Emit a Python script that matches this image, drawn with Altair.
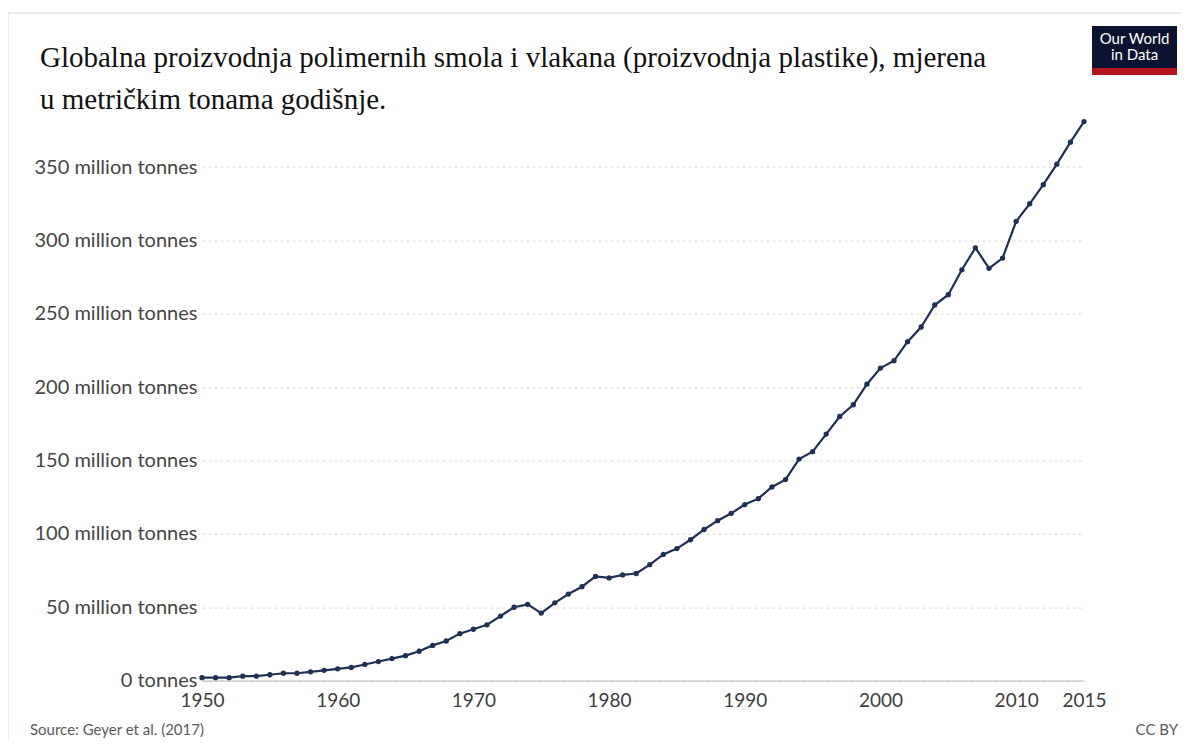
import altair as alt
import pandas as pd

years = list(range(1950, 2016))
production = [2, 2, 2, 3, 3, 4, 5, 5, 6, 7,
              8, 9, 11, 13, 15, 17, 20, 24, 27, 32,
              35, 38, 44, 50, 52, 46, 53, 59, 64, 71,
              70, 72, 73, 79, 86, 90, 96, 103, 109, 114,
              120, 124, 132, 137, 151, 156, 168, 180, 188, 202,
              213, 218, 231, 241, 256, 263, 280, 295, 281, 288,
              313, 325, 338, 352, 367, 381]
x_ticks = [1950, 1960, 1970, 1980, 1990, 2000, 2010, 2015]
y_ticks = [0, 50, 100, 150, 200, 250, 300, 350]

title_lines = ["Globalna proizvodnja polimernih smola i vlakana (proizvodnja plastike), mjerena",
               "u metričkim tonama godišnje."]
source_text = "Source: Geyer et al. (2017)"
license_text = "CC BY"
logo_lines = ["Our World", "in Data"]

df = pd.DataFrame({"year": years, "value": production})
one = pd.DataFrame({"k": [0]})

W, H = 882, 559
TOP = 121.6
LINE = "#1f3152"

x = alt.X("year:Q", scale=alt.Scale(domain=[1950, 2015], nice=False, zero=False),
          axis=alt.Axis(values=x_ticks, format="d", title=None, grid=False, ticks=False,
                        domain=True, domainColor="#b8b8b8", domainWidth=1,
                        labelFont="Lato", labelFontSize=19, labelColor="#3d3d3d",
                        labelPadding=11, labelFlush=False))
y = alt.Y("value:Q", scale=alt.Scale(domain=[0, 381], nice=False),
          axis=alt.Axis(values=y_ticks, title=None, grid=True, gridDash=[3, 3],
                        gridColor="#d6d6d6", gridWidth=1, ticks=False, domain=False,
                        labelFont="Lato", labelFontSize=20, labelColor="#454545",
                        labelPadding=5,
                        labelExpr="datum.value == 0 ? '0 tonnes' : datum.value + ' million tonnes'"))

base = alt.Chart(df)
line = base.mark_line(color=LINE, strokeWidth=2.2).encode(x=x, y=y)
pts = base.mark_circle(color=LINE, size=28, opacity=1).encode(x="year:Q", y="value:Q")

def txt(s, px, py, size, color, font, align="left", baseline="alphabetic"):
    return alt.Chart(one).mark_text(align=align, baseline=baseline, fontSize=size,
                                    color=color, font=font).encode(
        x=alt.value(px), y=alt.value(py), text=alt.value(s))

frame = alt.Chart(one).mark_rect(fillOpacity=0, stroke="#e4e4e4", strokeWidth=1.5).encode(
    x=alt.value(-194), x2=alt.value(981), y=alt.value(13 - TOP), y2=alt.value(640))

logo_box = alt.Chart(one).mark_rect(color="#0b1330").encode(
    x=alt.value(890), x2=alt.value(975), y=alt.value(26 - TOP), y2=alt.value(68 - TOP))
logo_bar = alt.Chart(one).mark_rect(color="#b3161f").encode(
    x=alt.value(890), x2=alt.value(975), y=alt.value(68 - TOP), y2=alt.value(75 - TOP))

layers = [frame, line, pts,
          txt(title_lines[0], -162, 67 - TOP, 29, "#111111", "Liberation Serif"),
          txt(title_lines[1], -162, 109 - TOP, 29, "#111111", "Liberation Serif"),
          logo_box, logo_bar,
          txt(logo_lines[0], 932.5, 39 - TOP, 15, "#ffffff", "Lato", align="center", baseline="middle"),
          txt(logo_lines[1], 932.5, 55 - TOP, 15, "#ffffff", "Lato", align="center", baseline="middle"),
          txt(source_text, -172, 730 - TOP, 15, "#5a5a5a", "Lato", baseline="middle"),
          txt(license_text, 976, 730 - TOP, 15, "#5a5a5a", "Lato", align="right", baseline="middle")]

chart = alt.layer(*layers).properties(
    width=W, height=H,
    padding={"left": 194, "top": TOP - 8, "right": 97, "bottom": 733 - (TOP - 8) - H},
    autosize=alt.AutoSizeParams(type="none"),
    background="white",
).configure_view(stroke=None)

chart.save("out.html", embed_options={"renderer": "svg", "actions": False})
